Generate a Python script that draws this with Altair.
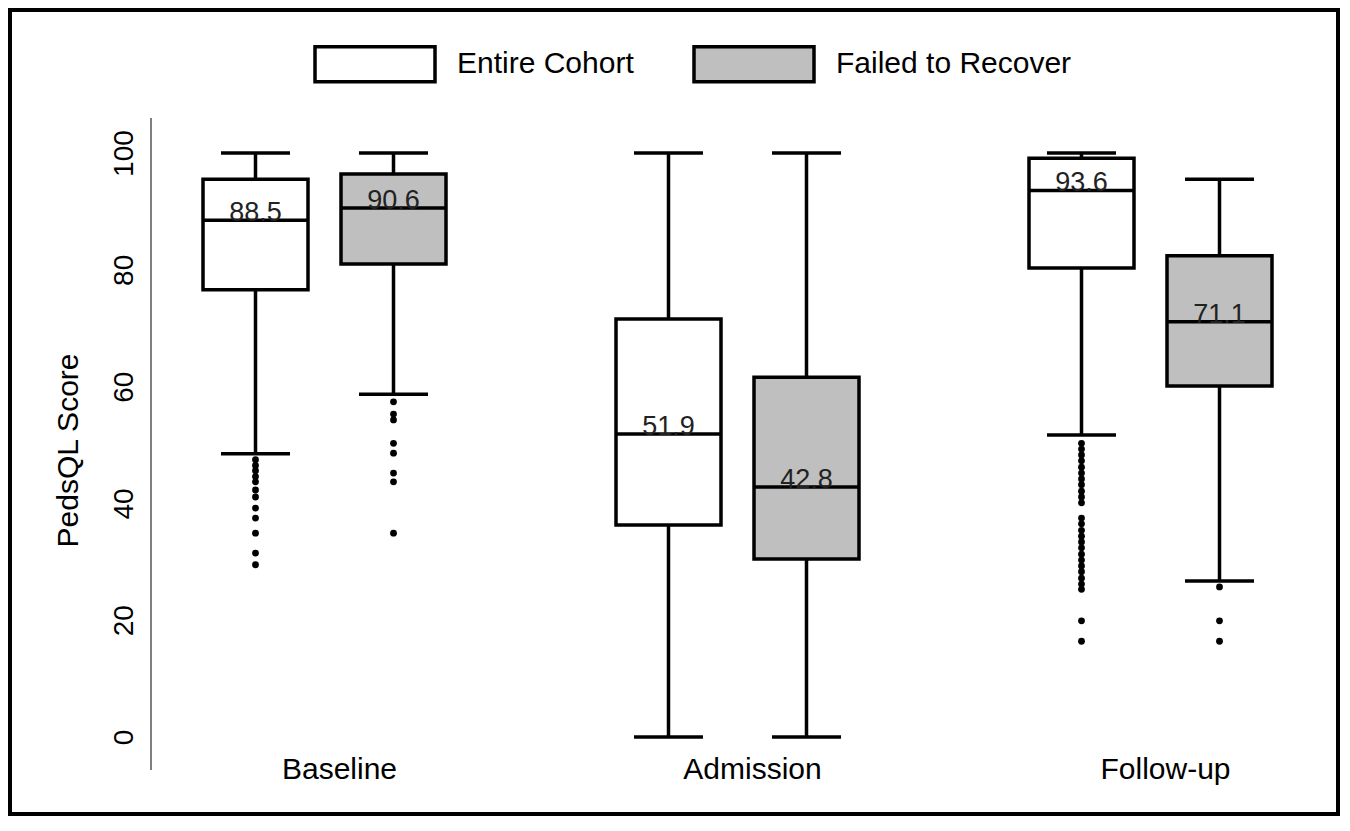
import altair as alt
import pandas as pd

FONT = "Liberation Sans"

visits = ["Baseline", "Admission", "Follow-up"]
series = ["Entire Cohort", "Failed to Recover"]

box_visit = ["Baseline", "Baseline", "Admission", "Admission", "Follow-up", "Follow-up"]
box_series = ["Entire Cohort", "Failed to Recover"] * 3
whisker_low = [48.5, 58.7, 0.0, 0.0, 51.7, 26.7]
q1 = [76.6, 81.0, 36.3, 30.5, 80.3, 60.1]
median = [88.5, 90.6, 51.9, 42.8, 93.6, 71.1]
q3 = [95.5, 96.4, 71.6, 61.6, 99.1, 82.4]
whisker_high = [100.0, 100.0, 100.0, 100.0, 100.0, 95.5]

out_base_entire = [47.5, 46.5, 45.6, 44.6, 43.7, 42.3, 41.1, 39.2, 37.5, 34.9, 31.5, 29.5]
out_base_failed = [57.4, 55.3, 54.3, 50.3, 48.6, 45.2, 43.7, 34.9]
out_follow_entire = [50.3, 49.3, 48.3, 47.3, 46.2, 45.2, 44.2, 43.2, 42.1, 41.1, 40.1,
                     37.5, 36.5, 35.4, 34.4, 33.4, 32.4, 31.3, 30.3, 29.3, 28.3, 27.2,
                     26.2, 25.3, 19.9, 16.4]
out_follow_failed = [25.7, 19.9, 16.4]

y_ticks = [0, 20, 40, 60, 80, 100]

box_df = pd.DataFrame({
    "visit": box_visit, "series": box_series, "low": whisker_low,
    "q1": q1, "median": median, "q3": q3, "high": whisker_high,
})

rows = []
for vis, ser, vals in [("Baseline", "Entire Cohort", out_base_entire),
                       ("Baseline", "Failed to Recover", out_base_failed),
                       ("Follow-up", "Entire Cohort", out_follow_entire),
                       ("Follow-up", "Failed to Recover", out_follow_failed)]:
    for v in vals:
        rows.append({"visit": vis, "series": ser, "value": v})
out_df = pd.DataFrame(rows)

axis_df = pd.DataFrame({"lo": [-5.65], "hi": [106.0]})

yscale = alt.Scale(domain=[-13.18, 124.49], nice=False, zero=False)
xscale = alt.Scale(domain=visits, range=[108, 1347], paddingInner=0, paddingOuter=0)
xoscale = alt.Scale(domain=series, range=[68.5, 344.5], paddingInner=0, paddingOuter=0)

yaxis = alt.Axis(title="PedsQL Score", values=y_ticks,
                 domain=False, ticks=False, grid=False, offset=-141,
                 labelAngle=270, labelFontSize=28, labelFont=FONT,
                 labelColor="black", labelPadding=13,
                 titleFontSize=30, titleFont=FONT, titleColor="black",
                 titleFontWeight="normal", titleAngle=270,
                 titleAlign="center", titleBaseline="middle",
                 titleX=-83, titleY=440)


def Y(field):
    return alt.Y(field, scale=yscale, axis=yaxis, title="PedsQL Score")


X = alt.X("visit:N", scale=xscale, sort=visits,
          axis=alt.Axis(title=None, domain=False, ticks=False, labelAngle=0,
                        labelFontSize=30, labelFont=FONT, labelColor="black",
                        offset=-62, labelPadding=2, labelOffset=15))
XO = alt.XOffset("series:N", scale=xoscale, sort=series)

base = alt.Chart(box_df).encode(x=X, xOffset=XO)

whiskers = base.mark_rule(color="black", strokeWidth=3.5).encode(y=Y("low:Q"), y2="high:Q")
cap_hi = base.mark_tick(color="black", size=69, thickness=3.5, opacity=1).encode(y=Y("high:Q"))
cap_lo = base.mark_tick(color="black", size=69, thickness=3.5, opacity=1).encode(y=Y("low:Q"))
boxes = base.mark_bar(size=105, stroke="black", strokeWidth=3.5, opacity=1).encode(
    y=Y("q1:Q"),
    y2="q3:Q",
    fill=alt.Fill("series:N", scale=alt.Scale(domain=series, range=["white", "#bfbfbf"]),
                  legend=alt.Legend(title=None, orient="none", legendX=303, legendY=-8,
                                    direction="horizontal",
                                    symbolType="M-1,-0.2917L1,-0.2917L1,0.2917L-1,0.2917Z",
                                    symbolSize=14400, symbolStrokeColor="black",
                                    symbolStrokeWidth=3.5, symbolOpacity=1,
                                    labelFontSize=30, labelFont=FONT, labelColor="black",
                                    labelOffset=20, columnPadding=53, padding=0,
                                    labelLimit=400)),
)
medians = base.mark_tick(color="black", size=105, thickness=3.5, opacity=1).encode(y=Y("median:Q"))
med_text = base.mark_text(fontSize=27, font=FONT, color="#222222",
                          baseline="alphabetic", dy=1).encode(
    y=Y("median:Q"),
    text=alt.Text("median:Q", format=".1f"))
points = alt.Chart(out_df).mark_circle(size=46, color="black", opacity=1).encode(
    x=X, xOffset=XO, y=Y("value:Q"))
axis_line = alt.Chart(axis_df).mark_rule(color="#7f7f7f", strokeWidth=2).encode(
    x=alt.value(141), y=Y("lo:Q"), y2="hi:Q")

chart = alt.layer(axis_line, whiskers, boxes, medians, cap_hi, cap_lo, med_text, points).properties(
    width=1328, height=804, autosize="none", padding=2, background="white"
).configure_view(stroke="black", strokeWidth=4, fill="white")

chart.save("out.html", embed_options={"renderer": "svg", "actions": False})
